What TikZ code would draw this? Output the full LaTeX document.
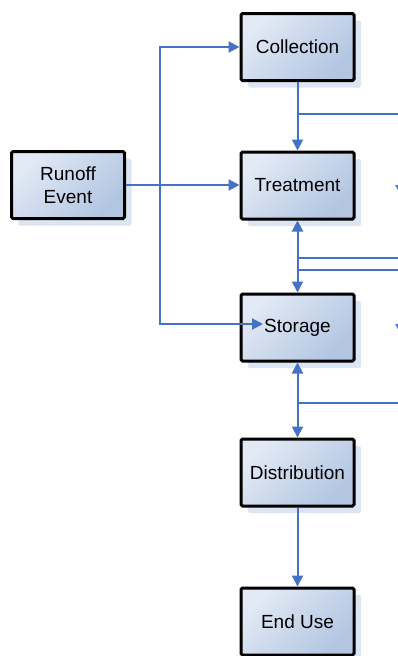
\documentclass[tikz,border=0pt]{standalone}
\usepackage{fontspec}
\setmainfont{Liberation Sans}
\usetikzlibrary{arrows.meta,shadows}
\definecolor{flow}{RGB}{68,114,196}
\definecolor{boxlight}{RGB}{226,234,245}
\definecolor{boxdark}{RGB}{178,197,225}
\definecolor{boxshadow}{RGB}{220,229,242}
\tikzset{
  stage/.style={draw=black, line width=3pt, rounded corners=1.5pt,
    minimum width=113pt, minimum height=67pt, inner sep=0pt,
    align=center, font=\fontsize{19}{22.5}\selectfont,
    shading=axis, top color=boxlight, bottom color=boxdark, shading angle=45,
    general shadow={shadow xshift=7pt, shadow yshift=-7pt, fill=boxshadow,
      draw=none, opacity=1}},
  flowline/.style={draw=flow, line width=2pt},
  flowarrow/.style={flowline, -{Triangle[length=11pt,width=11pt]}},
  flowboth/.style={flowline, {Triangle[length=11pt,width=11pt]}-{Triangle[length=11pt,width=11pt]}},
}
\begin{document}
\begin{tikzpicture}[x=1pt,y=-1pt]
\useasboundingbox (0,0) rectangle (398,656);
\clip (0,0) rectangle (398,656);

% process stages
\node[stage] (collection)   at (297.5,47)    {Collection};
\node[stage] (treatment)    at (297.5,185.5) {Treatment};
\node[stage] (storage)      at (297.5,327.5) {Storage};
\node[stage] (distribution) at (297.5,472.5) {Distribution};
\node[stage] (enduse)       at (297.5,621.5) {End Use};
\node[stage] (runoff)       at (68,185)      {Runoff\\Event};

% runoff feed and its branch line
\coordinate (branch) at (160,185);
\coordinate (storagein) at (263,324);
\draw[flowarrow] (runoff.east |- branch) -- (treatment.west |- branch);
\draw[flowarrow] (branch) |- (collection.west);
\draw[flowarrow] (branch) |- (storagein);

% main vertical chain
\draw[flowarrow] (collection.south) -- (treatment.north);
\draw[flowboth]  (treatment.south) -- (storage.north);
\draw[flowboth]  (storage.south) -- (distribution.north);
\draw[flowarrow] (distribution.south) -- (enduse.north);

% side lines leaving to the right
\coordinate (side1) at (402,114);
\coordinate (side2) at (402,258);
\coordinate (side3) at (402,270);
\coordinate (side4) at (402,403);
\draw[flowline] (collection.south |- side1) -- (side1);
\draw[flowline] (treatment.south |- side2) -- (side2);
\draw[flowline] (treatment.south |- side3) -- (side3);
\draw[flowline] (storage.south |- side4) -- (side4);

% incoming arrow tips at the right edge
\coordinate (tipA) at (401,196);
\coordinate (tipB) at (401,335);
\draw[flowarrow] ([yshift=14pt]tipA) -- (tipA);
\draw[flowarrow] ([yshift=14pt]tipB) -- (tipB);
\end{tikzpicture}
\end{document}
